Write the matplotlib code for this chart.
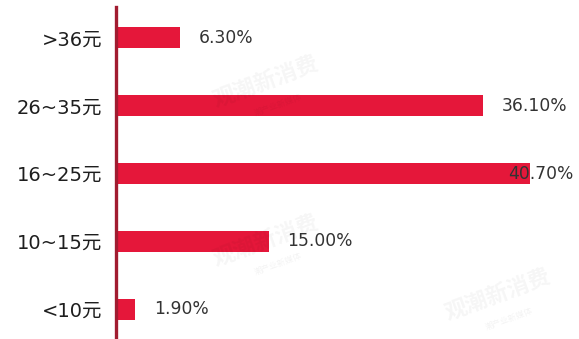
import matplotlib.pyplot as plt

plt.rcParams['font.family'] = ['DejaVu Sans', 'Noto Sans CJK SC']

# price ranges (bottom to top) and share of respondents
categories = ['<10元', '10~15元', '16~25元', '26~35元', '>36元']
shares = [1.9, 15.0, 40.7, 36.1, 6.3]
share_labels = ['1.90%', '15.00%', '40.70%', '36.10%', '6.30%']

bar_color = '#e5173a'
axis_color = '#a11c30'

fig = plt.figure(figsize=(5.79, 3.39), dpi=100)
ax = fig.add_axes([116 / 579, 0, 463 / 579, 332 / 339])

ypos = list(range(len(categories)))
ax.barh(ypos, shares, height=0.31, color=bar_color, zorder=2)

# value labels: placed right of the bar, but kept inside the figure
for y, v, lab in zip(ypos, shares, share_labels):
    x = min(v + 1.8, 38.5)
    ax.text(x, y, lab, va='center', ha='left', fontsize=12.3, color='#333333', zorder=3)

ax.set_xlim(0, 45.5)
ax.set_ylim(-0.44, 4.456)
ax.set_yticks(ypos)
ax.set_yticklabels(categories, fontsize=14, color='#1e1e1e')
ax.tick_params(axis='y', length=0, pad=10)
ax.set_xticks([])

for side in ['top', 'right', 'bottom']:
    ax.spines[side].set_visible(False)
ax.spines['left'].set_color(axis_color)
ax.spines['left'].set_linewidth(2.4)

# faint watermarks
for wx, wy in [(0.46, 0.76), (0.46, 0.29), (0.86, 0.13)]:
    fig.text(wx, wy, '观潮新消费', fontsize=16, fontweight='bold', color='#000000',
             alpha=0.04, rotation=20, ha='center', va='center', family='Noto Sans CJK SC')
    fig.text(wx + 0.02, wy - 0.07, '潮产业新媒体', fontsize=6, color='#000000',
             alpha=0.05, rotation=20, ha='center', va='center', family='Noto Sans CJK SC')

fig.savefig('out.png', dpi=100)
